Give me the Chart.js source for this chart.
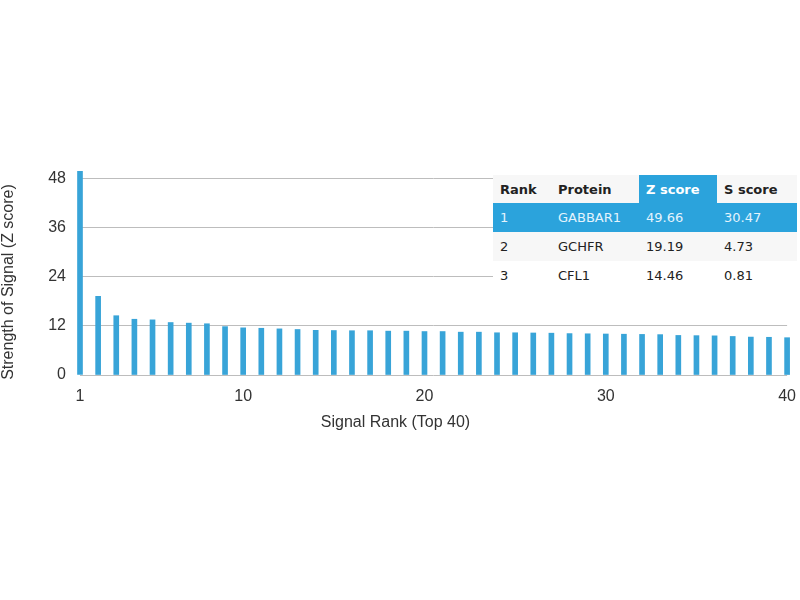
<!DOCTYPE html>
<html>
<head>
<meta charset="utf-8">
<script src="https://cdn.jsdelivr.net/npm/chart.js@4"></script>
<style>
  body { margin: 0; background: #fff; }
  #wrap { position: relative; width: 800px; height: 600px; }
  .axisTitle {
    position: absolute; font-family: "Liberation Sans", sans-serif; font-size: 16px;
    line-height: 18px; height: 18px; color: #333; text-align: center; white-space: nowrap;
  }
  #xTitle { left: 0; width: 791px; top: 413px; }
  #yTitle { left: -112px; width: 240px; top: 273px; transform: rotate(-90deg); }
  #scoreTable {
    position: absolute; left: 493px; top: 175px;
    border-collapse: collapse;
    font-family: "DejaVu Sans", sans-serif; font-size: 13px; color: #222;
    background: #fff;
  }
  #scoreTable th, #scoreTable td {
    padding: 0 0 0 7px; height: 29px; text-align: left; white-space: nowrap;
  }
  #scoreTable th { height: 28px; font-weight: bold; background: #f7f7f7; }
  #scoreTable th.hl { background: #2ba3dc; color: #fff; }
  #scoreTable tr.top td { background: #2ba3dc; color: #e4f3fc; }
  #scoreTable tr.alt td { background: #f7f7f7; }
</style>
</head>
<body>
<div id="wrap">
  <canvas id="rankChart"></canvas>
  <div class="axisTitle" id="xTitle">Signal Rank (Top 40)</div>
  <div class="axisTitle" id="yTitle">Strength of Signal (Z score)</div>
  <table id="scoreTable"></table>
</div>
<script>
// Signal rank chart (top 40)

const ranks = Array.from({ length: 40 }, (_, i) => String(i + 1));
const zValues = [49.66, 19.19, 14.46, 13.6, 13.45, 12.8, 12.65, 12.5, 11.8, 11.5,
                 11.4, 11.25, 11.1, 10.9, 10.85, 10.8, 10.8, 10.7, 10.7, 10.6,
                 10.6, 10.45, 10.45, 10.3, 10.3, 10.25, 10.2, 10.1, 10.05, 10.0,
                 9.95, 9.9, 9.85, 9.65, 9.6, 9.55, 9.4, 9.25, 9.2, 9.1];
const xTickLabels = ['1', '10', '20', '30', '40'];
const yTicks = [0, 12, 24, 36, 48];

// table
const tableHeaders = ['Rank', 'Protein', 'Z score', 'S score'];
const tableRanks = ['1', '2', '3'];
const proteins = ['GABBAR1', 'GCHFR', 'CFL1'];
const zScores = ['49.66', '19.19', '14.46'];
const sScores = ['30.47', '4.73', '0.81'];
const colWidths = [51, 81, 71, 73];

const tbl = document.getElementById('scoreTable');
let html = '<tr>' + tableHeaders.map((h, i) =>
  '<th' + (i === 2 ? ' class="hl"' : '') + ' style="width:' + colWidths[i] + 'px">' + h + '</th>').join('') + '</tr>';
tableRanks.forEach((r, i) => {
  const cls = i === 0 ? 'top' : (i === 1 ? 'alt' : '');
  html += '<tr class="' + cls + '"><td>' + r + '</td><td>' + proteins[i] + '</td><td>' +
          zScores[i] + '</td><td>' + sScores[i] + '</td></tr>';
});
tbl.innerHTML = html;

const ctx = document.getElementById('rankChart');
if(ctx){
  new Chart(ctx, {
    type: 'bar',
    data: {
      labels: ranks,
      datasets: [
        { data: zValues, backgroundColor: '#38a4d8', barThickness: 5, clip: false }
      ]
    },
    options: {
      responsive: true,
      maintainAspectRatio: false,
      animation: false,
      layout: { padding: { top: 170, right: 0, bottom: 165, left: 0 } },
      plugins: { legend: { display: false }, tooltip: { enabled: false } },
      scales: {
        x: {
          offset: false,
          grid: { display: false },
          border: { display: false },
          ticks: {
            autoSkip: false, maxRotation: 0, padding: 4,
            color: '#333', font: { family: 'Liberation Sans', size: 16 },
            callback: (v, i) => xTickLabels.includes(ranks[i]) ? ranks[i] : ''
          },
          afterFit: s => { s.height = 60; }
        },
        y: {
          min: 0, max: 50,
          grid: { color: '#bdbdbd', drawTicks: false },
          border: { display: false },
          afterBuildTicks: s => { s.ticks = yTicks.map(v => ({ value: v })); },
          ticks: { padding: 14, color: '#333', font: { family: 'Liberation Sans', size: 16 } },
          afterFit: s => { s.width = 80; }
        }
      }
    }
  });
}
</script>
</body>
</html>
